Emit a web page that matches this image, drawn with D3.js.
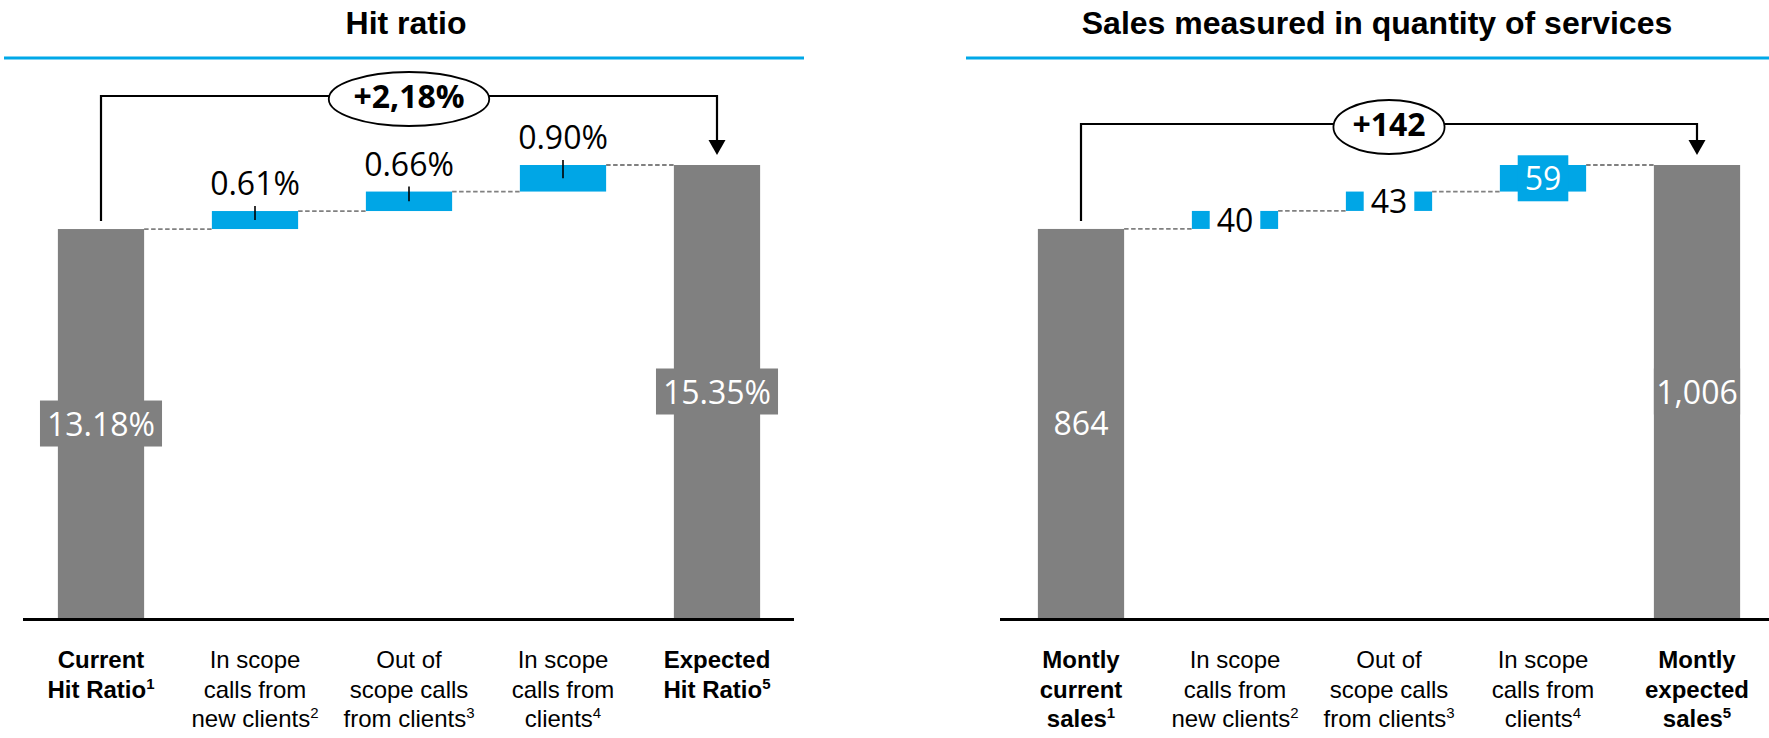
<!DOCTYPE html>
<html>
<head>
<meta charset="utf-8">
<script src="https://cdn.jsdelivr.net/npm/d3@7"></script>
<style>
  html, body { margin: 0; padding: 0; background: #fff; }
  svg { display: block; }
</style>
</head>
<body>
<svg id="chart" width="1769" height="738"></svg>
<script>
// ---- Hit ratio waterfall ----
const hitTitle = "Hit ratio";
const hitCategories = [
  ["Current", "Hit Ratio^1"],
  ["In scope", "calls from", "new clients^2"],
  ["Out of", "scope calls", "from clients^3"],
  ["In scope", "calls from", "clients^4"],
  ["Expected", "Hit Ratio^5"]
];
const hitStart = 13.18;
const hitSteps = [0.61, 0.66, 0.90];
const hitEnd = 15.35;
const hitTotalLabel = "+2,18%";

// ---- Sales waterfall ----
const salesTitle = "Sales measured in quantity of services";
const salesCategories = [
  ["Montly", "current", "sales^1"],
  ["In scope", "calls from", "new clients^2"],
  ["Out of", "scope calls", "from clients^3"],
  ["In scope", "calls from", "clients^4"],
  ["Montly", "expected", "sales^5"]
];
const salesStart = 864;
const salesSteps = [40, 43, 59];
const salesEnd = 1006;
const salesTotalLabel = "+142";

// Categories rendered in bold (the two totals)
const boldCategories = [0, 4];

const svg = d3.select("#chart");
const FONT_VAL = "'Open Sans', 'Noto Sans', sans-serif";
const FONT_TXT = "'Liberation Sans', Arial, sans-serif";
const GREY = "#808080";
const BLUE = "#00A6E6";
const RULE = "#00A8E8";
const baseY = 618;     // value axis zero
const endTopY = 165;   // pixel level of each panel's final total
const labelSize = 32;

function measure(text, size, weight, family) {
  const t = svg.append("text")
    .attr("font-family", family).attr("font-size", size)
    .attr("font-weight", weight).text(text);
  const w = t.node().getComputedTextLength();
  t.remove();
  return w;
}

function splitSup(s) {
  const m = s.match(/^(.*)\^(\d)$/);
  return m ? [m[1], m[2]] : [s, null];
}

function drawPanel(p) {
  const g = svg.append("g").attr("transform", `translate(${p.offset},0)`);
  const n = p.categories.length;

  const x = d3.scaleBand()
    .domain(d3.range(n))
    .range(p.bandRange)
    .paddingInner(0.44)
    .paddingOuter(0.22);
  const bw = x.bandwidth();
  const cx = i => x(i) + bw / 2;

  const y = d3.scaleLinear().domain([0, p.end]).range([baseY, endTopY]);

  // segments: start total, cumulative steps, end total
  const segs = [{ y0: 0, y1: p.start, v: p.start, total: true }];
  let run = p.start;
  p.steps.forEach(v => { segs.push({ y0: run, y1: run + v, v, total: false }); run += v; });
  segs.push({ y0: 0, y1: p.end, v: p.end, total: true });
  segs.forEach((s, i) => { s.i = i; });

  // title and blue rule
  g.append("text")
    .attr("x", p.titleX).attr("y", 34)
    .attr("text-anchor", "middle")
    .attr("font-family", FONT_TXT).attr("font-weight", "bold").attr("font-size", 32)
    .attr("fill", "#000")
    .text(p.title);
  g.append("line")
    .attr("x1", p.rule[0]).attr("x2", p.rule[1])
    .attr("y1", 58).attr("y2", 58)
    .attr("stroke", RULE).attr("stroke-width", 3);

  // dashed connectors between consecutive segments
  g.append("g").selectAll("line")
    .data(segs.slice(0, -1))
    .join("line")
    .attr("x1", d => x(d.i) + bw)
    .attr("x2", d => x(d.i + 1))
    .attr("y1", d => y(d.y1))
    .attr("y2", d => y(d.y1))
    .attr("stroke", GREY).attr("stroke-width", 1.8)
    .attr("stroke-dasharray", "4.5,2.5");

  // bars
  g.append("g").selectAll("rect")
    .data(segs)
    .join("rect")
    .attr("x", d => x(d.i))
    .attr("width", bw)
    .attr("y", d => y(d.y1))
    .attr("height", d => y(d.y0) - y(d.y1))
    .attr("fill", d => d.total ? GREY : BLUE);

  // baseline
  g.append("line")
    .attr("x1", p.baseline[0]).attr("x2", p.baseline[1])
    .attr("y1", baseY + 1.5).attr("y2", baseY + 1.5)
    .attr("stroke", "#000").attr("stroke-width", 3);

  // value labels
  const lg = g.append("g");
  segs.forEach(s => {
    const txt = p.format(s.v);
    const tw = measure(txt, labelSize, "normal", FONT_VAL);
    const midY = (y(s.y0) + y(s.y1)) / 2;
    const fits = tw + 14 <= bw;

    if (!s.total && !fits) {
      // label above the segment with a short leader
      lg.append("line")
        .attr("x1", cx(s.i)).attr("x2", cx(s.i))
        .attr("y1", y(s.y1) - 5).attr("y2", midY)
        .attr("stroke", "#000").attr("stroke-width", 1.6);
      lg.append("text")
        .attr("x", cx(s.i)).attr("y", y(s.y1) - 16)
        .attr("text-anchor", "middle")
        .attr("font-family", FONT_VAL).attr("font-size", labelSize)
        .attr("fill", "#000")
        .text(txt);
      return;
    }

    let boxFill, textFill;
    if (s.total) { boxFill = GREY; textFill = "#fff"; }
    else if (y(s.y0) - y(s.y1) < 22) { boxFill = "#fff"; textFill = "#000"; }
    else { boxFill = BLUE; textFill = "#fff"; }

    let boxW = tw + 14;
    if (boxW > bw && tw + 4 <= bw) boxW = bw;
    const boxH = 46;
    lg.append("rect")
      .attr("x", cx(s.i) - boxW / 2).attr("y", midY - boxH / 2)
      .attr("width", boxW).attr("height", boxH)
      .attr("fill", boxFill);
    lg.append("text")
      .attr("x", cx(s.i)).attr("y", midY + 12)
      .attr("text-anchor", "middle")
      .attr("font-family", FONT_VAL).attr("font-size", labelSize)
      .attr("fill", textFill)
      .text(txt);
  });

  // difference bracket from first to last total
  const bx0 = cx(0), bx1 = cx(n - 1);
  const tipY = y(p.end) - 10;
  const bg = g.append("g");
  bg.append("path")
    .attr("d", `M${bx0},${y(p.start) - 8} V${p.bracketY} H${bx1} V${tipY - 14}`)
    .attr("fill", "none").attr("stroke", "#000").attr("stroke-width", 2.2);
  bg.append("path")
    .attr("d", `M${bx1 - 8.5},${tipY - 15} L${bx1 + 8.5},${tipY - 15} L${bx1},${tipY} Z`)
    .attr("fill", "#000");
  const dw = measure(p.totalLabel, 32, "bold", FONT_VAL);
  bg.append("ellipse")
    .attr("cx", cx(2)).attr("cy", p.bracketY + 3)
    .attr("rx", 0.65 * dw + 8).attr("ry", 27)
    .attr("fill", "#fff").attr("stroke", "#000").attr("stroke-width", 1.8);
  bg.append("text")
    .attr("x", cx(2)).attr("y", p.bracketY + 11.5)
    .attr("text-anchor", "middle")
    .attr("font-family", FONT_VAL).attr("font-weight", "bold").attr("font-size", 32)
    .attr("fill", "#000")
    .text(p.totalLabel);

  // category labels
  const cg = g.append("g");
  p.categories.forEach((lines, i) => {
    const bold = boldCategories.includes(i);
    lines.forEach((line, k) => {
      const [main, sup] = splitSup(line);
      const t = cg.append("text")
        .attr("x", cx(i)).attr("y", 668 + k * 29.5)
        .attr("text-anchor", "middle")
        .attr("font-family", FONT_TXT).attr("font-size", 24)
        .attr("font-weight", bold ? "bold" : "normal")
        .attr("fill", "#000");
      t.append("tspan").text(main);
      if (sup) {
        t.append("tspan").attr("font-size", 15).attr("dy", -9).text(sup);
      }
    });
  });
}

drawPanel({
  offset: 0,
  title: hitTitle,
  titleX: 406,
  rule: [4, 804],
  bandRange: [24, 794],
  baseline: [23, 794],
  bracketY: 96,
  categories: hitCategories,
  start: hitStart, steps: hitSteps, end: hitEnd,
  format: v => v.toFixed(2) + "%",
  totalLabel: hitTotalLabel
});

drawPanel({
  offset: 980,
  title: salesTitle,
  titleX: 397,
  rule: [-14, 800],
  bandRange: [24, 794],
  baseline: [20, 800],
  bracketY: 124,
  categories: salesCategories,
  start: salesStart, steps: salesSteps, end: salesEnd,
  format: d3.format(","),
  totalLabel: salesTotalLabel
});
</script>
</body>
</html>
